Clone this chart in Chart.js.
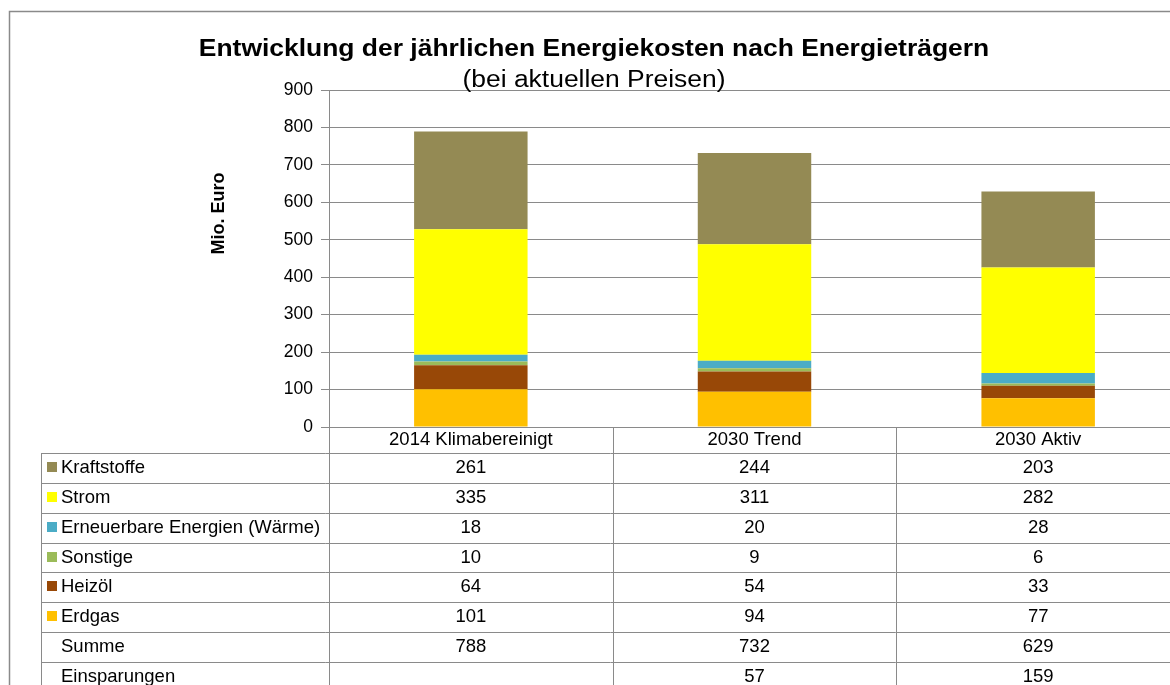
<!DOCTYPE html>
<html>
<head>
<meta charset="utf-8">
<script src="https://cdn.jsdelivr.net/npm/chart.js@4.4.1/dist/chart.umd.min.js"></script>
<style>
html,body{margin:0;padding:0;overflow:hidden;background:#fff}
canvas{display:block}
</style>
</head>
<body>
<canvas id="c" width="1190" height="685"></canvas>
<script>
// ---- data ----
const categories = ['2014 Klimabereinigt', '2030 Trend', '2030 Aktiv'];
const erdgas      = [101, 94, 77];
const heizoel     = [64, 54, 33];
const sonstige    = [10, 9, 6];
const erneuerbare = [18, 20, 28];
const strom       = [335, 311, 282];
const kraftstoffe = [261, 244, 203];
const summe        = [788, 732, 629];
const einsparungen = [null, 57, 159];
const yTicks = [0, 100, 200, 300, 400, 500, 600, 700, 800, 900];

const titleText = 'Entwicklung der jährlichen Energiekosten nach Energieträgern';
const subtitleText = '(bei aktuellen Preisen)';
const yTitleText = 'Mio. Euro';

const FONT = "'Liberation Sans', Arial, sans-serif";
const LINE = '#8a8a8a';

const seriesDefs = [
  { label: 'Erdgas', data: erdgas, color: '#FFC000' },
  { label: 'Heizöl', data: heizoel, color: '#984807' },
  { label: 'Sonstige', data: sonstige, color: '#9BBB59' },
  { label: 'Erneuerbare Energien (Wärme)', data: erneuerbare, color: '#4BACC6' },
  { label: 'Strom', data: strom, color: '#FFFF00' },
  { label: 'Kraftstoffe', data: kraftstoffe, color: '#948A54' }
];

const bgPlugin = {
  id: 'bg',
  beforeDraw(chart) {
    const ctx = chart.ctx;
    ctx.save();
    ctx.fillStyle = '#fff';
    ctx.fillRect(0, 0, chart.width, chart.height);
    ctx.restore();
  }
};

const tablePlugin = {
  id: 'dataTable',
  afterDraw(chart) {
    const ctx = chart.ctx;
    const area = chart.chartArea;
    const xs = chart.scales.x;
    const n = categories.length;
    const colW = (area.right - area.left) / n;
    const tableLeft = 41;
    const headerBottom = 453;
    const rowH = 29.86;
    const rows = chart.data.datasets.slice().reverse().map(d => ({
      label: d.label, values: d.data, color: d.backgroundColor
    }));
    rows.push({ label: 'Summe', values: summe, color: null });
    rows.push({ label: 'Einsparungen', values: einsparungen, color: null });
    const tableBottom = headerBottom + rows.length * rowH;

    ctx.save();
    ctx.strokeStyle = LINE;
    ctx.lineWidth = 1;
    ctx.beginPath();
    for (let k = 0; k <= rows.length; k++) {
      const y = Math.round(headerBottom + k * rowH) + 0.5;
      ctx.moveTo(tableLeft, y);
      ctx.lineTo(area.right, y);
    }
    const vx = (x) => Math.round(x) + 0.5;
    ctx.moveTo(vx(tableLeft), headerBottom);
    ctx.lineTo(vx(tableLeft), tableBottom);
    for (let i = 0; i <= n; i++) {
      const x = vx(area.left + i * colW);
      ctx.moveTo(x, area.bottom);
      ctx.lineTo(x, tableBottom);
    }
    ctx.stroke();

    ctx.font = '18.5px ' + FONT;
    ctx.fillStyle = '#000';
    ctx.textBaseline = 'middle';
    rows.forEach((r, k) => {
      const cy = headerBottom + k * rowH + rowH / 2;
      if (r.color) {
        ctx.fillStyle = r.color;
        ctx.fillRect(47, Math.round(cy - 6), 10, 10);
      }
      ctx.fillStyle = '#000';
      ctx.textAlign = 'left';
      ctx.fillText(r.label, 61, cy);
      ctx.textAlign = 'center';
      r.values.forEach((v, i) => {
        if (v === null || v === undefined) return;
        ctx.fillText(String(v), xs.getPixelForValue(i), cy);
      });
    });

    // outer frame
    ctx.strokeStyle = '#8a8a8a';
    ctx.lineWidth = 1.5;
    ctx.strokeRect(9.5, 11.5, chart.width + 20, chart.height + 20);

    // titles
    ctx.fillStyle = '#000';
    ctx.textAlign = 'center';
    ctx.textBaseline = 'alphabetic';
    ctx.save();
    ctx.translate(594, 55.5);
    ctx.scale(1.125, 1);
    ctx.font = 'bold 23.5px ' + FONT;
    ctx.fillText(titleText, 0, 0);
    ctx.restore();
    ctx.save();
    ctx.translate(594, 86.5);
    ctx.scale(1.125, 1);
    ctx.font = '23.5px ' + FONT;
    ctx.fillText(subtitleText, 0, 0);
    ctx.restore();
    // y axis title
    ctx.save();
    ctx.translate(219, 213.5);
    ctx.rotate(-Math.PI / 2);
    ctx.font = 'bold 18px ' + FONT;
    ctx.textBaseline = 'middle';
    ctx.fillText(yTitleText, 0, 0);
    ctx.restore();
    ctx.restore();
  }
};

Chart.defaults.font.family = FONT;
Chart.defaults.color = '#000';

new Chart(document.getElementById('c'), {
  type: 'bar',
  data: {
    labels: categories,
    datasets: seriesDefs.map(s => ({
      label: s.label,
      data: s.data,
      backgroundColor: s.color,
      borderWidth: 0,
      barPercentage: 0.4,
      categoryPercentage: 1.0
    }))
  },
  options: {
    responsive: false,
    animation: false,
    devicePixelRatio: 1,
    layout: { padding: { top: 90, right: 10, bottom: 232, left: 0 } },
    plugins: {
      legend: { display: false },
      title: { display: false },
      tooltip: { enabled: false }
    },
    scales: {
      x: {
        stacked: true,
        grid: { display: false, drawTicks: false },
        border: { display: false },
        ticks: { font: { size: 18.5 }, color: '#000', padding: 2, autoSkip: false, maxRotation: 0 },
        afterFit: s => { s.height = 26; }
      },
      y: {
        stacked: true,
        min: 0,
        max: 900,
        afterBuildTicks: s => { s.ticks = yTicks.map(v => ({ value: v })); },
        grid: { color: LINE, lineWidth: 1, tickLength: 8 },
        border: { color: LINE, width: 1 },
        ticks: { font: { size: 17.5 }, color: '#000', padding: 8 },
        afterFit: s => { s.width = 329; }
      }
    }
  },
  plugins: [bgPlugin, tablePlugin]
});
</script>
</body>
</html>
